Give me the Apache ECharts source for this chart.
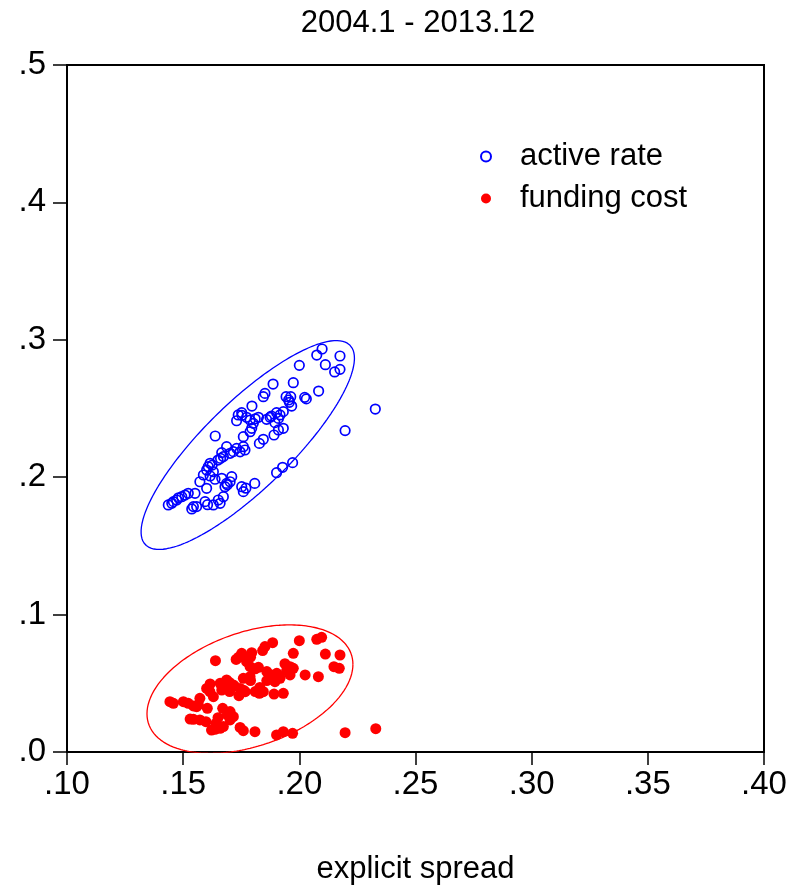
<!DOCTYPE html>
<html>
<head>
<meta charset="utf-8">
<script src="https://cdn.jsdelivr.net/npm/echarts@6/dist/echarts.min.js"></script>
<style>
  html, body { margin: 0; padding: 0; background: #fff; }
  #chart { width: 796px; height: 887px; }
</style>
</head>
<body>
<div id="chart"></div>
<script>
// Monthly observations, 2004.1 - 2013.12
const activeX = [
  0.2098,0.2075,0.2175,0.2000,0.2112,0.2175,0.2152,0.1887,0.1974,0.2083,
  0.1852,0.1845,0.1943,0.1963,0.1954,0.2023,0.1967,0.2327,0.1796,0.1752,
  0.1737,0.1730,0.1773,0.1788,0.1824,0.1859,0.1874,0.1902,0.1917,0.1910,
  0.1931,0.1895,0.1802,0.1795,0.1788,0.1931,0.1910,0.2197,0.1638,0.1759,
  0.1891,0.1845,0.1828,0.1687,0.1730,0.1759,0.1766,0.1716,0.1702,0.1666,
  0.1661,0.1673,0.1616,0.1608,0.1601,0.1630,0.1587,0.1616,0.1971,0.1928,
  0.1902,0.1572,0.1601,0.1637,0.1666,0.1709,0.1702,0.1687,0.1680,0.1752,
  0.1759,0.1808,0.1551,0.1522,0.1508,0.1494,0.1472,0.1458,0.1436,0.1451,
  0.1594,0.1630,0.1651,0.1673,0.1659,0.1544,0.1558,0.1537,
  0.1957,0.2030,0.1753,0.1810,0.1880,0.1745,0.1625,0.1690,0.1480,0.1605,0.1770,0.1650
];
const activeY = [
  0.2933,0.2889,0.2882,0.2814,0.2819,0.2785,0.2766,0.2678,0.2688,0.2627,
  0.2610,0.2586,0.2586,0.2586,0.2562,0.2581,0.2518,0.2496,0.2518,0.2470,
  0.2453,0.2411,0.2436,0.2416,0.2436,0.2421,0.2436,0.2470,0.2453,0.2428,
  0.2477,0.2397,0.2392,0.2356,0.2331,0.2356,0.2344,0.2339,0.2300,0.2295,
  0.2307,0.2276,0.2246,0.2222,0.2210,0.2222,0.2198,0.2186,0.2174,0.2179,
  0.2137,0.2150,0.2101,0.2077,0.2052,0.2040,0.2016,0.2009,0.2106,0.2072,
  0.2033,0.1967,0.1919,0.1985,0.1992,0.2004,0.1967,0.1955,0.1931,0.1931,
  0.1895,0.1955,0.1883,0.1883,0.1870,0.1858,0.1834,0.1822,0.1798,0.1810,
  0.1822,0.1798,0.1834,0.1858,0.1810,0.1786,0.1786,0.1769,
  0.2545,0.2570,0.2450,0.2425,0.2445,0.2185,0.2088,0.1945,0.1850,0.1800,0.1920,0.2125
];
const fundingX = [
  0.2096,0.2075,0.2000,0.1885,0.1852,0.1842,0.1795,0.1752,0.1738,0.1728,
  0.1639,0.1974,0.2112,0.2175,0.1773,0.1788,0.1824,0.1860,0.1903,0.1938,
  0.1960,0.1974,0.2149,0.2172,0.1917,0.1895,0.1960,0.2025,0.2082,0.1759,
  0.1788,0.1687,0.1659,0.1616,0.1601,0.1666,0.1716,0.1745,0.1767,0.1828,
  0.1845,0.1891,0.1931,0.1630,0.1572,0.1558,0.1443,0.1458,0.1501,0.1522,
  0.1544,0.1604,0.1670,0.1702,0.1716,0.1702,0.1544,0.1572,0.1598,0.1641,
  0.1673,0.1637,0.1622,0.1659,0.1745,0.1759,0.1809,0.1902,0.1931,0.1971,
  0.2197,0.2329,
  0.1680,0.1700,0.1790,0.1810,0.1880,0.1945,0.1615,0.1650,0.1690,0.1565,0.1530,
  0.1720,0.1760,0.1830,0.1790,0.1700,0.1860,0.1740,0.1810
];
const fundingY = [
  0.0835,0.0820,0.0810,0.0796,0.0767,0.0738,0.0723,0.0718,0.0689,0.0674,
  0.0665,0.0718,0.0713,0.0706,0.0657,0.0621,0.0616,0.0585,0.0573,0.0643,
  0.0621,0.0609,0.0621,0.0609,0.0536,0.0512,0.0561,0.0561,0.0548,0.0536,
  0.0548,0.0524,0.0500,0.0495,0.0463,0.0451,0.0488,0.0463,0.0439,0.0427,
  0.0439,0.0422,0.0427,0.0403,0.0391,0.0330,0.0366,0.0354,0.0366,0.0354,
  0.0335,0.0318,0.0318,0.0294,0.0257,0.0233,0.0238,0.0233,0.0221,0.0209,
  0.0185,0.0165,0.0160,0.0172,0.0179,0.0155,0.0148,0.0124,0.0148,0.0136,
  0.0141,0.0170,
  0.0470,0.0505,0.0690,0.0605,0.0560,0.0590,0.0440,0.0250,0.0270,0.0345,0.0240,
  0.0480,0.0450,0.0470,0.0520,0.0440,0.0520,0.0410,0.0440
];

const seriesNames = ['active rate', 'funding cost'];
const titleText = '2004.1 - 2013.12';
const xName = 'explicit spread';
const xTicks = { min: 0.10, max: 0.40, interval: 0.05 };
const yTicks = { min: 0.0, max: 0.5, interval: 0.1 };
const ellipseLevel = 0.95;

const pairs = (xs, ys) => xs.map((x, i) => [x, ys[i]]);

// Confidence ellipse of a bivariate sample at the given probability level
function confidenceEllipse(xs, ys, level, steps) {
  const n = xs.length;
  const mx = xs.reduce((a, b) => a + b, 0) / n;
  const my = ys.reduce((a, b) => a + b, 0) / n;
  let sxx = 0, syy = 0, sxy = 0;
  for (let i = 0; i < n; i++) {
    const dx = xs[i] - mx, dy = ys[i] - my;
    sxx += dx * dx; syy += dy * dy; sxy += dx * dy;
  }
  sxx /= (n - 1); syy /= (n - 1); sxy /= (n - 1);
  const c = Math.sqrt(-2 * Math.log(1 - level));
  // Cholesky factor of the covariance matrix
  const l11 = Math.sqrt(sxx);
  const l21 = sxy / l11;
  const l22 = Math.sqrt(Math.max(syy - l21 * l21, 0));
  const pts = [];
  for (let k = 0; k <= steps; k++) {
    const t = 2 * Math.PI * k / steps;
    const u = Math.cos(t), v = Math.sin(t);
    pts.push([mx + c * l11 * u, my + c * (l21 * u + l22 * v)]);
  }
  return pts;
}

const FONT = "'Liberation Sans', Arial, sans-serif";
const BLUE = '#0000ff';
const RED = '#ff0000';

const chart = echarts.init(document.getElementById('chart'), null, { renderer: 'canvas' });

chart.setOption({
  animation: false,
  backgroundColor: '#ffffff',
  title: {
    text: titleText,
    left: 418,
    textAlign: 'center',
    top: 8,
    padding: 0,
    textStyle: { fontFamily: FONT, fontSize: 31, fontWeight: 'normal', color: '#000' }
  },
  legend: {
    data: [
      { name: seriesNames[0], icon: 'circle' },
      { name: seriesNames[1], icon: 'circle' }
    ],
    orient: 'vertical',
    left: 480,
    top: 141,
    itemWidth: 10,
    itemHeight: 10,
    itemGap: 11,
    padding: 0,
    textStyle: { fontFamily: FONT, fontSize: 31, color: '#000', padding: [0, 0, 0, 24] }
  },
  grid: {
    left: 67, right: 32, top: 65, bottom: 135,
    show: true, borderColor: '#000', borderWidth: 2,
    containLabel: false,
    outerBoundsMode: 'none'
  },
  xAxis: {
    type: 'value',
    min: xTicks.min, max: xTicks.max, interval: xTicks.interval,
    name: xName,
    nameLocation: 'middle',
    nameGap: 102,
    nameTextStyle: { fontFamily: FONT, fontSize: 31, color: '#000' },
    axisLine: { show: true, lineStyle: { color: '#000', width: 2 } },
    axisTick: { show: true, length: 13, lineStyle: { color: '#000', width: 1.5 } },
    axisLabel: {
      margin: 16,
      fontFamily: FONT, fontSize: 33, color: '#000',
      formatter: v => v.toFixed(2).replace(/^0/, '')
    },
    splitLine: { show: false }
  },
  yAxis: {
    type: 'value',
    min: yTicks.min, max: yTicks.max, interval: yTicks.interval,
    axisLine: { show: true, lineStyle: { color: '#000', width: 2 } },
    axisTick: { show: true, length: 14, lineStyle: { color: '#000', width: 1.5 } },
    axisLabel: {
      margin: 21,
      fontFamily: FONT, fontSize: 33, color: '#000',
      formatter: v => v.toFixed(1).replace(/^0/, '')
    },
    splitLine: { show: false }
  },
  series: [
    {
      name: seriesNames[0],
      type: 'scatter',
      symbol: 'circle',
      symbolSize: 9.5,
      itemStyle: { color: 'rgba(255,255,255,0)', borderColor: BLUE, borderWidth: 1.7, opacity: 1 },
      data: pairs(activeX, activeY),
      z: 3
    },
    {
      name: seriesNames[1],
      type: 'scatter',
      symbol: 'circle',
      symbolSize: 11,
      itemStyle: { color: RED, opacity: 1 },
      data: pairs(fundingX, fundingY),
      z: 3
    },
    {
      name: 'active rate ellipse',
      type: 'line',
      showSymbol: false,
      silent: true,
      lineStyle: { color: BLUE, width: 1.3 },
      data: confidenceEllipse(activeX, activeY, ellipseLevel, 240),
      z: 2
    },
    {
      name: 'funding cost ellipse',
      type: 'line',
      showSymbol: false,
      silent: true,
      lineStyle: { color: RED, width: 1.3 },
      data: confidenceEllipse(fundingX, fundingY, ellipseLevel, 240),
      z: 2
    }
  ]
});
</script>
</body>
</html>
